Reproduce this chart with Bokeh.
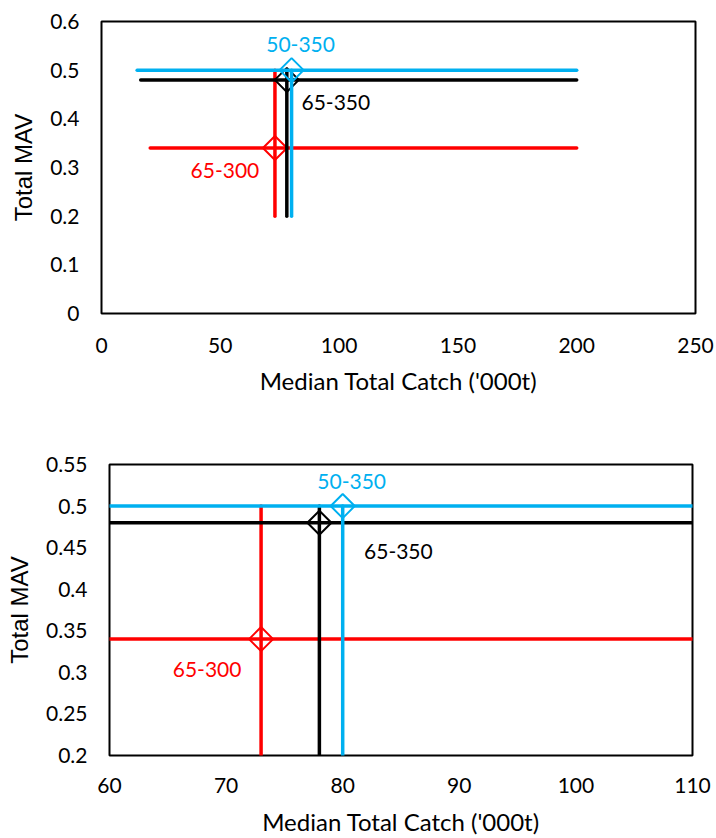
import numpy as np
from bokeh.plotting import figure
from bokeh.layouts import column, row
from bokeh.models import Range1d, FixedTicker
from bokeh.core.properties import value
from bokeh.embed import file_html
from bokeh.resources import INLINE

# ---- data ----
series_names = ["65-300", "65-350", "50-350"]
series_colors = ["#FF0000", "#000000", "#00B0F0"]
median_catch = [73, 78, 80]          # '000 t
total_mav = [0.34, 0.48, 0.50]
catch_low = [20.5, 16.5, 15.0]
catch_high = [200, 200, 200]
mav_low = [0.2, 0.2, 0.2]
mav_high = [0.5, 0.5, 0.5]

top_x_ticks = [0, 50, 100, 150, 200, 250]
top_x_labels = ["0", "50", "100", "150", "200", "250"]
top_y_ticks = [0, 0.1, 0.2, 0.3, 0.4, 0.5, 0.6]
top_y_labels = ["0", "0.1", "0.2", "0.3", "0.4", "0.5", "0.6"]

bot_x_ticks = [60, 70, 80, 90, 100, 110]
bot_x_labels = ["60", "70", "80", "90", "100", "110"]
bot_y_ticks = [0.2, 0.25, 0.3, 0.35, 0.4, 0.45, 0.5, 0.55]
bot_y_labels = ["0.2", "0.25", "0.3", "0.35", "0.4", "0.45", "0.5", "0.55"]

x_title = "Median Total Catch ('000t)"
y_title = "Total MAV"

FONT = "Lato"
YFONT = "Liberation Sans"


def make_chart(width, height, borders, xr, yr, xt, xl, yt, yl, label_offsets, xstand1, xstand2):
    left, right, top, bottom = borders
    p = figure(width=width, height=height, output_backend="svg", toolbar_location=None,
               x_range=Range1d(*xr), y_range=Range1d(*yr),
               min_border_left=left, min_border_right=right,
               min_border_top=top, min_border_bottom=bottom)
    p.background_fill_color = "white"
    p.border_fill_color = "white"
    p.outline_line_color = "black"
    p.outline_line_width = 2
    p.xgrid.visible = False
    p.ygrid.visible = False

    p.xaxis.ticker = FixedTicker(ticks=xt)
    p.xaxis.major_label_overrides = {t: l for t, l in zip(xt, xl)}
    p.yaxis.ticker = FixedTicker(ticks=yt)
    p.yaxis.major_label_overrides = {t: l for t, l in zip(yt, yl)}
    for ax in (p.xaxis, p.yaxis):
        ax.axis_line_color = None
        ax.major_tick_line_color = None
        ax.minor_tick_line_color = None
        ax.major_tick_out = 0
        ax.major_tick_in = 0
        ax.major_label_text_font = FONT
        ax.major_label_text_font_size = "21px"
        ax.major_label_text_color = "black"
        ax.axis_label_text_font_style = "normal"
        ax.axis_label_text_color = "black"
    p.xaxis.major_label_standoff = xstand1
    p.yaxis.major_label_standoff = 22
    p.xaxis.axis_label = x_title
    p.xaxis.axis_label_text_font = FONT
    p.xaxis.axis_label_text_font_size = "24px"
    p.xaxis.axis_label_standoff = xstand2
    p.yaxis.axis_label = y_title
    p.yaxis.axis_label_text_font = YFONT
    p.yaxis.axis_label_text_font_size = "24px"
    p.yaxis.axis_label_standoff = 10

    for i in range(len(series_names)):
        c = series_colors[i]
        p.segment(x0=[catch_low[i]], y0=[total_mav[i]], x1=[catch_high[i]], y1=[total_mav[i]],
                  line_color=c, line_width=3.5, line_cap="round")
        p.segment(x0=[median_catch[i]], y0=[mav_low[i]], x1=[median_catch[i]], y1=[mav_high[i]],
                  line_color=c, line_width=3.5, line_cap="round")
        p.scatter(x=[median_catch[i]], y=[total_mav[i]], marker="square", angle=np.pi / 4,
                  size=17, fill_color=None, line_color=c, line_width=2)
        dx, dy = label_offsets[i]
        p.text(x=[median_catch[i]], y=[total_mav[i]], text=[series_names[i]],
               x_offset=dx, y_offset=dy, text_align="center", text_baseline="middle",
               text_color=c, text_font=value(FONT), text_font_size="21px")
    return p


top = make_chart(716, 420, (101, 21, 21, 107), (0, 250), (0, 0.6),
                 top_x_ticks, top_x_labels, top_y_ticks, top_y_labels,
                 [(-50, 22), (49, 23), (9, -26)], 24, 10)
bot = make_chart(716, 418, (109, 24, 44, 82), (60, 110), (0.2, 0.55),
                 bot_x_ticks, bot_x_labels, bot_y_ticks, bot_y_labels,
                 [(-54, 30), (79, 29), (9, -25)], 22, 11)

layout = column(row(top), row(bot))
open("out.html", "w").write(file_html(layout, INLINE))
